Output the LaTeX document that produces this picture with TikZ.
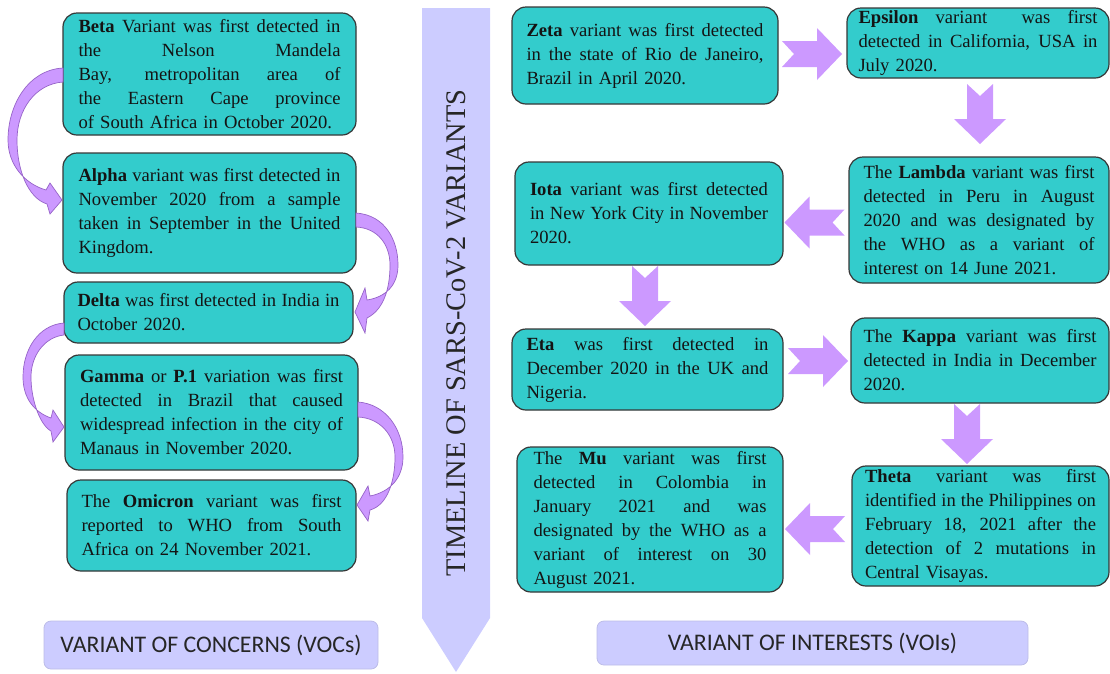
\documentclass[tikz,border=0pt]{standalone}
\usepackage{fontspec}
\setmainfont{Liberation Serif}
\newfontfamily\labelfont{Carlito}
\usetikzlibrary{calc}
\definecolor{tealbox}{RGB}{51,204,204}
\definecolor{boxline}{RGB}{55,55,55}
\definecolor{lav}{RGB}{204,204,255}
\definecolor{lavline}{RGB}{188,188,232}
\definecolor{arr}{RGB}{204,153,255}
\definecolor{arrdark}{RGB}{150,100,200}
\newlength\jw
\newcommand\J[1]{\leavevmode\hbox to\jw{\spaceskip=0.25em plus 3em minus 0.05em\relax #1}\\}
\newcommand\blockarrow[2]{\fill[blk, shift={#1}, rotate=#2] (-30,-13) -- (5,-13) -- (5,-26) -- (30,0) -- (5,26) -- (5,13) -- (-30,13) -- (-18,0) -- cycle;}
\begin{document}
\begin{tikzpicture}[x=1pt,y=-1pt,
  vbox/.style={draw=boxline, line width=1.2pt, fill=tealbox, rounded corners=14pt, inner sep=0pt, align=left, text=black!92, font=\fontsize{18.6}{24}\selectfont},
  tag/.style={draw=lavline, line width=0.8pt, fill=lav, rounded corners=7pt, inner sep=0pt, font=\labelfont\fontsize{23.8}{28}\selectfont, text=black!85},
  blk/.style={fill=arr},
  carrow/.style={fill=arr, draw=arrdark, line width=0.7pt}]
\useasboundingbox (0,0) rectangle (1110,673);

% central timeline arrow
\fill[lav] (422,8) -- (490,8) -- (490,618) -- (456,672) -- (422,618) -- cycle;
\node[rotate=90, inner sep=0pt, text=black!85, font=\fontsize{28.4}{30}\selectfont] (title) at (456,333) {TIMELINE OF SARS-CoV-2 VARIANTS};

% left column: variants of concern
\node[vbox, minimum width=293pt, minimum height=122pt, text width=262pt] (beta) at (209.5,74) {\jw=262pt\relax
\J{\textbf{Beta} Variant was first detected in}
\J{the Nelson Mandela}
\J{Bay, metropolitan area of}
\J{the Eastern Cape province}
of South Africa in October 2020.};
\node[vbox, minimum width=293pt, minimum height=120pt, text width=262pt] (alpha) at (209.5,213) {\jw=262pt\relax
\J{\textbf{Alpha} variant was first detected in}
\J{November 2020 from a sample}
\J{taken in September in the United}
Kingdom.};
\node[vbox, minimum width=289pt, minimum height=61pt, text width=262pt] (delta) at (208.5,312.5) {\jw=262pt\relax
\J{\textbf{Delta} was first detected in India in}
October 2020.};
\node[vbox, minimum width=293pt, minimum height=115pt, text width=263pt] (gamma) at (211.5,412.5) {\jw=263pt\relax
\J{\textbf{Gamma} or \textbf{P.1} variation was first}
\J{detected in Brazil that caused}
\J{widespread infection in the city of}
Manaus in November 2020.};
\node[vbox, minimum width=289pt, minimum height=91pt, text width=260pt] (omicron) at (211.5,525.5) {\jw=260pt\relax
\J{The \textbf{Omicron} variant was first}
\J{reported to WHO from South}
Africa on 24 November 2021.};
\node[tag, minimum width=334pt, minimum height=48pt] (voc) at (211,645) {VARIANT OF CONCERNS (VOCs)};

% curved connectors (left column)
\filldraw[carrow] (63,68) .. controls (28,70) and (8,105) .. (8,140) .. controls (8,165) and (25,184) .. (46,190) -- (50,183) -- (62,200) -- (50,214) -- (47,204) .. controls (28,198) and (17,170) .. (17,140) .. controls (17,110) and (35,84) .. (63,82) -- cycle;
\filldraw[carrow] (356,213) .. controls (385,215) and (398,240) .. (398,265) .. controls (398,285) and (386,297) .. (367,300) -- (365,288) -- (355,312) -- (365,333) -- (367,318) .. controls (383,310) and (390,290) .. (390,265) .. controls (390,245) and (378,228) .. (356,227) -- cycle;
\filldraw[carrow] (64,323) .. controls (38,325) and (23,350) .. (23,377) .. controls (23,398) and (34,412) .. (51,418) -- (53,410) -- (64,427) -- (53,442) -- (51,431) .. controls (40,425) and (31,400) .. (31,377) .. controls (31,355) and (45,337) .. (64,335) -- cycle;
\filldraw[carrow] (358,402) .. controls (385,404) and (403,428) .. (403,457) .. controls (403,478) and (390,492) .. (370,496) -- (368,486) -- (357,505) -- (368,521) -- (370,510) .. controls (388,505) and (395,480) .. (395,457) .. controls (395,435) and (380,418) .. (358,417) -- cycle;

% right column: variants of interest
\node[vbox, minimum width=266pt, minimum height=97pt, text width=237pt] (zeta) at (645,55.5) {\jw=237pt\relax
\J{\textbf{Zeta} variant was first detected}
\J{in the state of Rio de Janeiro,}
Brazil in April 2020.};
\node[vbox, minimum width=262pt, minimum height=70pt, text width=239pt] (epsilon) at (978,43) {\jw=239pt\relax
\J{\textbf{Epsilon} variant\ \ was first}
\J{detected in California, USA in}
July 2020.};
\node[vbox, minimum width=260pt, minimum height=126pt, text width=231pt] (lambda) at (979,220) {\jw=231pt\relax
\J{The \textbf{Lambda} variant was first}
\J{detected in Peru in August}
\J{2020 and was designated by}
\J{the WHO as a variant of}
interest on 14 June 2021.};
\node[vbox, minimum width=268pt, minimum height=103pt, text width=238pt] (iota) at (649,213.5) {\jw=238pt\relax
\J{\textbf{Iota} variant was first detected}
\J{in New York City in November}
2020.};
\node[vbox, minimum width=271pt, minimum height=81pt, text width=242pt] (eta) at (647.5,369.5) {\jw=242pt\relax
\J{\textbf{Eta} was first detected in}
\J{December 2020 in the UK and}
Nigeria.};
\node[vbox, minimum width=258pt, minimum height=85pt, text width=233pt] (kappa) at (980,360.5) {\jw=233pt\relax
\J{The \textbf{Kappa} variant was first}
\J{detected in India in December}
2020.};
\node[vbox, minimum width=266pt, minimum height=145pt, text width=233pt] (mu) at (650,519.5) {\jw=233pt\relax
\J{The \textbf{Mu} variant was first}
\J{detected in Colombia in}
\J{January 2021 and was}
\J{designated by the WHO as a}
\J{variant of interest on 30}
August 2021.};
\node[vbox, minimum width=257pt, minimum height=120pt, text width=231pt] (theta) at (980.5,526) {\jw=231pt\relax
\J{\textbf{Theta} variant was first}
\J{identified in the Philippines on}
\J{February 18, 2021 after the}
\J{detection of 2 mutations in}
Central Visayas.};
\node[tag, minimum width=431pt, minimum height=44pt] (voi) at (812.5,643) {VARIANT OF INTERESTS (VOIs)};

% block arrows (right column)
\blockarrow{(812,54)}{0}
\blockarrow{(980,114)}{-90}
\blockarrow{(814.5,222.5)}{180}
\blockarrow{(645,296)}{-90}
\blockarrow{(818,361)}{0}
\blockarrow{(967,434)}{-90}
\blockarrow{(815,529)}{180}
\end{tikzpicture}
\end{document}
